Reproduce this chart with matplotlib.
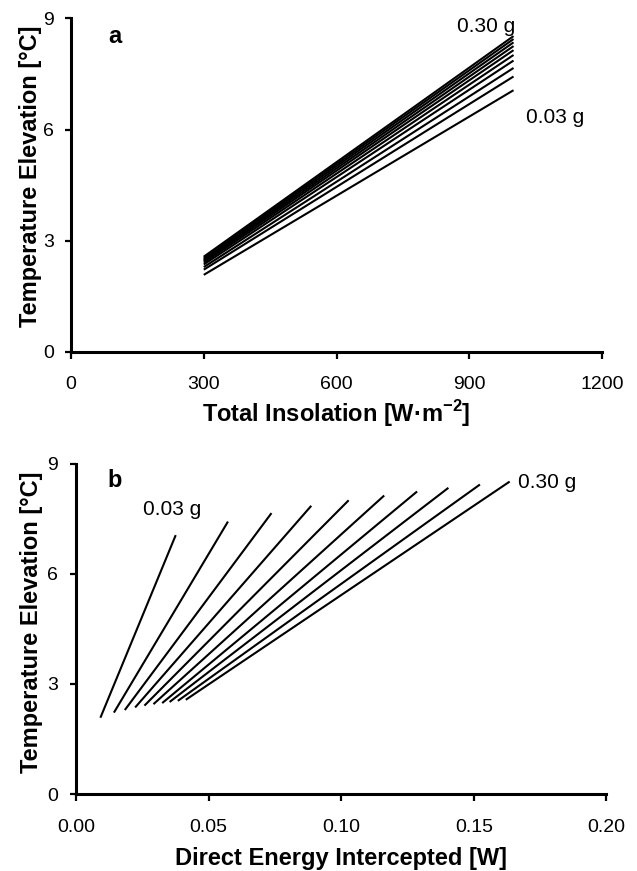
import matplotlib
matplotlib.use("Agg")
import matplotlib.pyplot as plt

plt.rcParams['font.family'] = ['Liberation Sans', 'DejaVu Sans']
plt.rcParams['mathtext.fontset'] = 'custom'
plt.rcParams['mathtext.rm'] = 'Liberation Sans'
plt.rcParams['mathtext.bf'] = 'Liberation Sans:bold'

# ---- data ----
mass_g = [0.03, 0.06, 0.09, 0.12, 0.15, 0.18, 0.21, 0.24, 0.27, 0.30]
insolation_range = [300, 1000]                      # W m^-2
temp_at_300 = [2.08, 2.22, 2.29, 2.36, 2.41, 2.45, 2.48, 2.51, 2.54, 2.57]
temp_at_1000 = [7.06, 7.43, 7.66, 7.86, 8.01, 8.14, 8.25, 8.35, 8.44, 8.52]
energy_at_300 = [0.0092, 0.0143, 0.0184, 0.0223, 0.0258, 0.0292, 0.0325, 0.0353, 0.0384, 0.0414]
energy_at_1000 = [0.0376, 0.0573, 0.0737, 0.0887, 0.1028, 0.1162, 0.1286, 0.1404, 0.1523, 0.1635]

xticks_a = [0, 300, 600, 900, 1200]
xticks_b = [0.00, 0.05, 0.10, 0.15, 0.20]
yticks = [0, 3, 6, 9]

fig = plt.figure(figsize=(6.37, 8.71), dpi=100)
ax_a = fig.add_axes([0.1115, 0.5959, 0.8336, 0.3831])
ax_b = fig.add_axes([0.1193, 0.0884, 0.8328, 0.3789])

LW = 1.5
for i in range(len(mass_g)):
    ax_a.plot(insolation_range, [temp_at_300[i], temp_at_1000[i]], color='black', lw=LW,
              solid_capstyle='butt')
    ax_b.plot([energy_at_300[i], energy_at_1000[i]], [temp_at_300[i], temp_at_1000[i]],
              color='black', lw=LW, solid_capstyle='butt')

def style(ax, xticks, xlabels, xpad, ypad):
    for s in ['top', 'right']:
        ax.spines[s].set_visible(False)
    for s in ['left', 'bottom']:
        ax.spines[s].set_linewidth(2.2)
        ax.spines[s].set_capstyle('projecting')
    ax.set_ylim(0, 9)
    ax.set_yticks(yticks)
    ax.set_yticklabels([str(v) for v in yticks])
    ax.set_xticks(xticks)
    ax.set_xticklabels(xlabels)
    ax.tick_params(axis='x', direction='out', length=5, width=1.6, labelsize=14, pad=xpad)
    ax.tick_params(axis='y', direction='out', length=4, width=1.6, labelsize=14, pad=ypad)

ax_a.set_xlim(0, 1200)
style(ax_a, xticks_a, [str(v) for v in xticks_a], 12, 8)
ax_b.set_xlim(0, 0.20)
style(ax_b, xticks_b, ['%.2f' % v for v in xticks_b], 13, 9)

ax_a.set_ylabel('Temperature Elevation [°C]', fontsize=17, fontweight='bold')
ax_b.set_ylabel('Temperature Elevation [°C]', fontsize=17, fontweight='bold')
ax_a.yaxis.set_label_coords(-0.055, 0.527)
ax_b.yaxis.set_label_coords(-0.062, 0.52)
ax_a.set_xlabel('Total Insolation [W·m$^{\\mathbf{-2}}$]', fontsize=17, fontweight='bold', labelpad=4)
ax_b.set_xlabel('Direct Energy Intercepted [W]', fontsize=17, fontweight='bold', labelpad=8)

ax_a.text(100, 8.5, 'a', fontsize=17, fontweight='bold', ha='center', va='center')
ax_b.text(0.0147, 8.56, 'b', fontsize=17, fontweight='bold', ha='center', va='center')

ax_a.text(872, 8.64, '%.2f g' % mass_g[-1], fontsize=15, ha='left', va='baseline')
ax_a.text(1029, 6.17, '%.2f g' % mass_g[0], fontsize=15, ha='left', va='baseline')
ax_b.text(0.0254, 7.61, '%.2f g' % mass_g[0], fontsize=15, ha='left', va='baseline')
ax_b.text(0.1666, 8.34, '%.2f g' % mass_g[-1], fontsize=15, ha='left', va='baseline')

fig.savefig('out.png', dpi=100)
